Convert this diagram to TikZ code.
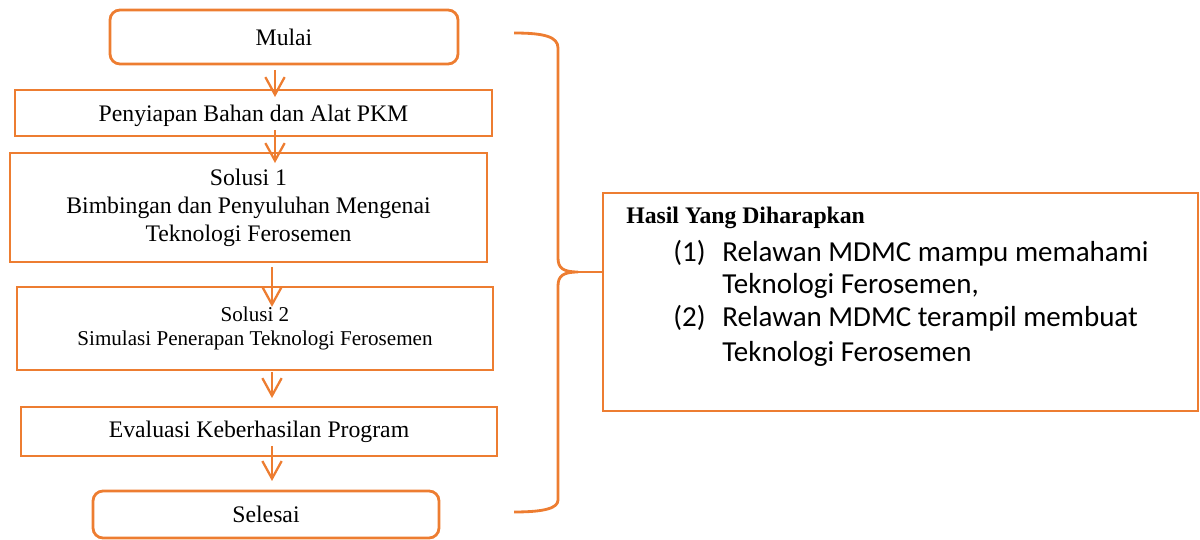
\documentclass[tikz,border=0pt]{standalone}
\usepackage{fontspec}
\setmainfont{Liberation Serif}
\newfontfamily\calibri{Carlito}
\usetikzlibrary{arrows.meta}
\definecolor{oren}{RGB}{237,125,49}

\begin{document}
\begin{tikzpicture}
  [x=0.02cm,y=-0.02cm,
   every node/.style={font=\fontsize{13.5}{16}\selectfont},
   kotak/.style 2 args={draw=oren,line width=1.6pt,outer sep=0pt,inner sep=0pt,align=center,
     minimum width=#1*0.02cm,minimum height=#2*0.02cm},
   bulat/.style={rounded corners=0.2cm},
   garis/.style={draw=oren,line width=1.6pt},
   panah/.style={draw=oren,line width=1.3pt,-{Straight Barb[length=10pt,width=11pt]}},
   isi/.style={font=\calibri\fontsize{16.5}{19}\selectfont,inner sep=0pt,anchor=base west}]
  \useasboundingbox (0,0) rectangle (1200,540);

  \node[kotak={348}{54},bulat] (mulai) at (284,37) {Mulai};
  \node[kotak={477}{46},text depth=0pt] (siap) at (253.5,113) {Penyiapan Bahan dan Alat PKM};
  \node[kotak={477}{109}] (sol1) at (248.5,207.5) {Solusi 1\\Bimbingan dan Penyuluhan Mengenai\\Teknologi Ferosemen};
  \node[kotak={476}{83},font=\fontsize{12}{13.6}\selectfont] (sol2) at (255,328.5) {Solusi 2\\Simulasi Penerapan Teknologi Ferosemen};
  \node[kotak={476}{49}] (eval) at (259,431.5) {Evaluasi Keberhasilan Program};
  \node[kotak={346}{47},bulat] (selesai) at (266,514.5) {Selesai};

  \node[kotak={595}{218}] (hasil) at (900.5,302) {};
  \node[font=\bfseries\fontsize{13.5}{16}\selectfont,inner sep=0pt,anchor=base west] (judul) at (626,224) {Hasil Yang Diharapkan};
  \node[isi] (no1) at (673,262) {(1)};
  \node[isi] (no2) at (673,327) {(2)};
  \foreach \y/\teks [count=\i] in {262/Relawan MDMC mampu memahami,294/{Teknologi Ferosemen,},
                                   327/Relawan MDMC terampil membuat,362/Teknologi Ferosemen}
    \node[isi] (baris\i) at (722,\y) {\teks};

  \foreach \from/\to/\x/\sa/\sb in {mulai/siap/275/3.4pt/-4pt,siap/sol1/275/-3.4pt/-5.7pt,
                                    sol1/sol2/272/2.8pt/-11.3pt,sol2/eval/272/1.1pt/5.1pt,
                                    eval/selesai/272/-5.7pt/5.7pt}
    \draw[panah,shorten <=\sa,shorten >=\sb] (\from.south -| \x,0) -- (\to.north -| \x,0);

  \draw[garis] (514,33) .. controls (545,33) and (558,37) .. (558,48) -- (558,258)
    .. controls (558,268) and (563,272) .. (578,272)
    .. controls (563,272) and (558,276) .. (558,286) -- (558,500)
    .. controls (558,508) and (545,512) .. (514,512);
  \coordinate (ujung) at (578,272);
  \draw[garis] (ujung) -- (ujung -| hasil.west);

\end{tikzpicture}
\end{document}
